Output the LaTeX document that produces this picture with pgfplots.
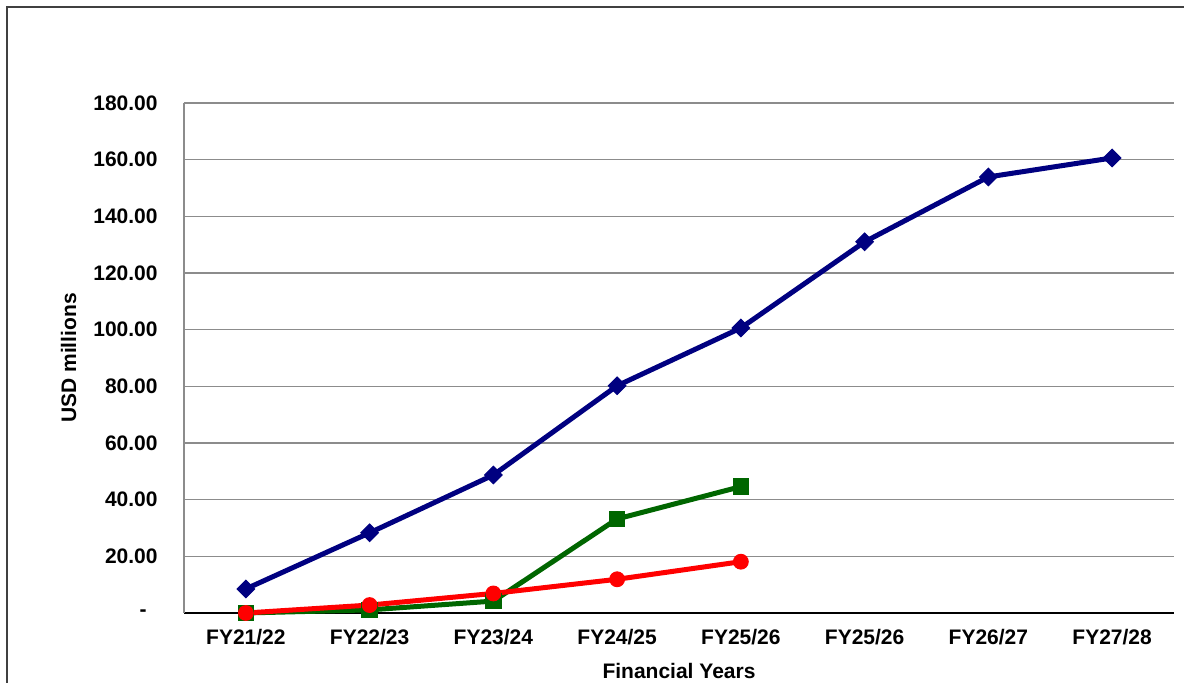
\documentclass[border=0pt]{standalone}
\usepackage{fontspec}
\setmainfont{Liberation Sans}
\usepackage{pgfplots}
\pgfplotsset{compat=1.18}
\definecolor{navyb}{RGB}{0,0,128}
\definecolor{dgreen}{RGB}{0,102,0}
\definecolor{gridg}{RGB}{140,140,140}
\begin{document}
\begin{tikzpicture}
\fontsize{10.5}{12.6}\selectfont\bfseries
\draw[line width=1pt, color=black!75] (3.5pt,-20pt) -- (3.5pt,338pt) -- (620pt,338pt);
\begin{axis}[
  at={(92pt,35pt)}, anchor=south west,
  scale only axis, width=495pt, height=255pt,
  xmin=-0.5, xmax=7.5, ymin=0, ymax=180,
  axis x line*=bottom, axis y line*=left,
  x axis line style={black, line width=0.7pt},
  y axis line style={gridg, line width=0.7pt},
  xtick={0,1,2,3,4,5,6,7},
  xticklabels={FY21/22,FY22/23,FY23/24,FY24/25,FY25/26,FY25/26,FY26/27,FY27/28},
  ytick={0,20,40,60,80,100,120,140,160,180},
  yticklabels={-\kern5.5pt,20.00,40.00,60.00,80.00,100.00,120.00,140.00,160.00,180.00},
  major tick length=0pt,
  ymajorgrids,
  major grid style={gridg, line width=0.6pt},
  xticklabel style={font=\fontsize{10.5}{12.6}\selectfont\bfseries, inner sep=0pt, anchor=north, yshift=-8pt},
  yticklabel style={font=\fontsize{10.5}{12.6}\selectfont\bfseries, inner sep=0pt, anchor=east, xshift=-13pt},
  xlabel={Financial Years},
  ylabel={USD millions},
  xlabel style={font=\fontsize{10.5}{12.6}\selectfont\bfseries, at={(axis description cs:0.5,0)}, anchor=north, inner sep=0pt, yshift=-25pt},
  ylabel style={font=\fontsize{10.5}{12.6}\selectfont\bfseries, at={([xshift=-61.7pt]axis description cs:0,0.5)}, anchor=north, inner sep=0pt},
  clip=false,
]
\addplot[navyb, line width=2.5pt, mark=square*, mark size=3.1pt, mark options={rotate=45, solid, line width=0.5pt}]
  coordinates {(0,8.5) (1,28.3) (2,48.7) (3,80.2) (4,100.6) (5,131.0) (6,153.9) (7,160.6)};
\addplot[dgreen, line width=2.5pt, mark=square*, mark size=3.9pt, mark options={solid, line width=0.5pt}]
  coordinates {(0,0) (1,1.1) (2,4.2) (3,33.2) (4,44.6)};
\addplot[red, line width=2.5pt, mark=*, mark size=3.7pt, mark options={solid, line width=0.5pt}]
  coordinates {(0,0) (1,2.8) (2,6.9) (3,11.9) (4,18.1)};
\end{axis}
\pgfresetboundingbox
\useasboundingbox (0,0) rectangle (592pt,341.5pt);
\end{tikzpicture}
\end{document}
